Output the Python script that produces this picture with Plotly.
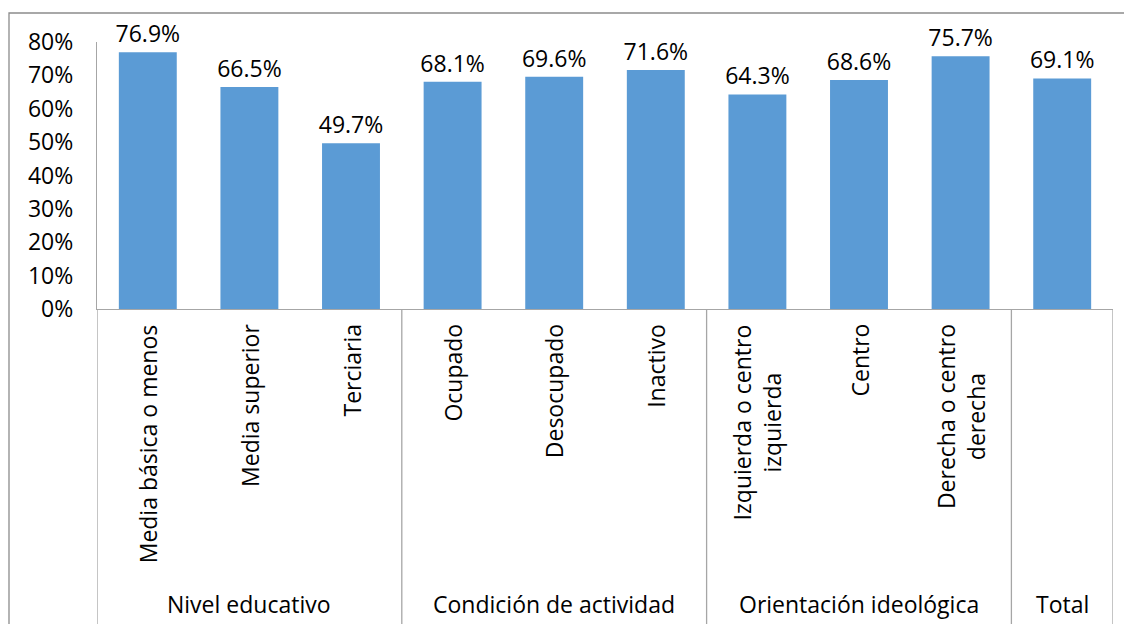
import plotly.graph_objects as go

categories = ["Media básica o menos", "Media superior", "Terciaria",
              "Ocupado", "Desocupado", "Inactivo",
              "Izquierda o centro<br>izquierda", "Centro", "Derecha o centro<br>derecha",
              ""]
values = [76.9, 66.5, 49.7, 68.1, 69.6, 71.6, 64.3, 68.6, 75.7, 69.1]
groups = ["Nivel educativo", "Condición de actividad", "Orientación ideológica", "Total"]
group_sizes = [3, 3, 3, 1]
y_ticks = [0, 10, 20, 30, 40, 50, 60, 70, 80]
y_tick_labels = ["0%", "10%", "20%", "30%", "40%", "50%", "60%", "70%", "80%"]

FONT = "Open Sans"
FS = 23
TXT = "#000000"
LINE = "#A6A6A6"

# page body has an 8px margin: figure coords = screenshot coords - 8
OFF = 8
W, H = 1132, 624
L, R, T, B = 97 - OFF, 1132 - (1113 - OFF), 42 - OFF, 624 - (309 - OFF)
pw, ph = W - L - R, H - T - B

def px_to_paper_x(px):
    return (px - OFF - L) / pw

def px_to_paper_y(py):
    return (H - B - (py - OFF)) / ph

xs = list(range(len(categories)))

fig = go.Figure()
fig.add_trace(go.Bar(
    x=xs, y=values, marker=dict(color="#5B9BD5", line=dict(width=0)),
    text=[f"{v:.1f}%" for v in values], textposition="outside",
    constraintext="none",
    textfont=dict(family=FONT, size=FS, color=TXT), cliponaxis=False,
    hoverinfo="skip",
))

annotations = []
for i, c in enumerate(categories):
    if not c:
        continue
    annotations.append(dict(
        x=i, y=0, xref="x", yref="paper", text=c, showarrow=False,
        textangle=-90, xanchor="center", yanchor="top", yshift=-13,
        font=dict(family=FONT, size=FS, color=TXT), align="center",
    ))

shapes = []
start = 0
bounds = [-0.5]
for g, n in zip(groups, group_sizes):
    center = start + (n - 1) / 2
    annotations.append(dict(
        x=center, y=px_to_paper_y(604), xref="x", yref="paper", text=g,
        showarrow=False, xanchor="center", yanchor="middle",
        font=dict(family=FONT, size=FS, color=TXT),
    ))
    start += n
    bounds.append(start - 0.5)

for b in bounds:
    shapes.append(dict(type="line", xref="x", yref="paper", x0=b, x1=b,
                       y0=0, y1=px_to_paper_y(660), line=dict(color=LINE, width=1.3)))

# outer chart border
shapes.append(dict(type="rect", xref="paper", yref="paper",
                   x0=px_to_paper_x(9), x1=px_to_paper_x(1160),
                   y0=px_to_paper_y(680), y1=px_to_paper_y(13),
                   line=dict(color="#8C8C8C", width=1.3), fillcolor="rgba(0,0,0,0)", layer="below"))

fig.update_layout(
    width=W, height=H, margin=dict(l=L, r=R, t=T, b=B),
    paper_bgcolor="white", plot_bgcolor="white",
    showlegend=False, bargap=0.43,
    font=dict(family=FONT, size=FS, color=TXT),
    annotations=annotations, shapes=shapes,
    xaxis=dict(range=[-0.5, len(categories) - 0.5], showticklabels=False,
               showgrid=False, zeroline=False, showline=True, linecolor=LINE, linewidth=1.3,
               ticks=""),
    yaxis=dict(range=[0, 80], tickvals=y_ticks, ticktext=y_tick_labels, showgrid=False,
               zeroline=False, showline=True, linecolor=LINE, linewidth=1.3,
               ticks="", ticklabelstandoff=18,
               tickfont=dict(family=FONT, size=FS, color=TXT)),
)

fig.write_html("out.html")
